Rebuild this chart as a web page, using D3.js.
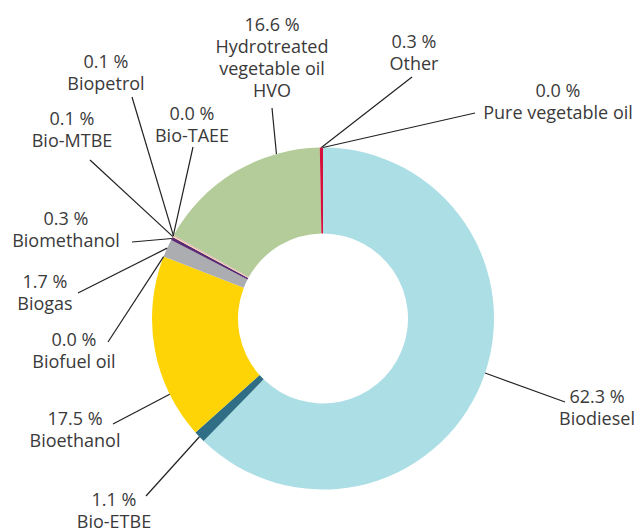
<!DOCTYPE html>
<html>
<head>
<meta charset="utf-8">
<script src="https://cdn.jsdelivr.net/npm/d3@7"></script>
<style>
  html, body { margin: 0; padding: 0; background: #fff; }
  svg text { font-family: "Open Sans", sans-serif; font-size: 18px; fill: #3a3a3a; }
</style>
</head>
<body>
<div id="chart"></div>
<script>
// 数据
const categories = ['Biodiesel', 'Bio-ETBE', 'Bioethanol', 'Biofuel oil', 'Biogas', 'Biomethanol',
  'Bio-MTBE', 'Bio-TAEE', 'Biopetrol', 'HVO', 'Other', 'Pure vegetable oil'];
const shares = [62.3, 1.1, 17.5, 0.0, 1.7, 0.3, 0.1, 0.0, 0.1, 16.6, 0.3, 0.0];
const labelNames = [['Biodiesel'], ['Bio-ETBE'], ['Bioethanol'], ['Biofuel oil'], ['Biogas'], ['Biomethanol'],
  ['Bio-MTBE'], ['Bio-TAEE'], ['Biopetrol'], ['Hydrotreated', 'vegetable oil', 'HVO'], ['Other'], ['Pure vegetable oil']];
const colors = ['#acdee6', '#2f6e84', '#fed406', '#cccccc', '#acadb1', '#5b2a72',
  '#f6e3a6', '#dddddd', '#ea9fb4', '#b4cc9a', '#d5103c', '#dddddd'];

// 标签布局: 文字中心, 首行基线, 引线终点, 引线在外圈的角度(度, 可选)
const labelLayout = [
  { x: 597, y: 403, ex: 565, ey: 402, at: 108.6 },
  { x: 114, y: 506, ex: 146, ey: 496 },
  { x: 75, y: 425, ex: 113, ey: 424, at: 243.7 },
  { x: 74, y: 346, ex: 108, ey: 342 },
  { x: 45, y: 288, ex: 78, ey: 293 },
  { x: 66, y: 225, ex: 132, ey: 242 },
  { x: 72, y: 125, ex: 90, ey: 160 },
  { x: 192, y: 120, ex: 193, ey: 147 },
  { x: 106, y: 68, ex: 132, ey: 97 },
  { x: 272, y: 31, ex: 272, ey: 108, at: 344.2 },
  { x: 414, y: 48, ex: 412, ey: 77 },
  { x: 558, y: 97, ex: 475, ey: 113 }
];

const width = 638, height = 531;
const cx = 323, cy = 318.5;
const outerR = 171, innerR = 85;
const lineH = 22;

const svg = d3.select('#chart').append('svg')
  .attr('width', width)
  .attr('height', height);

const pie = d3.pie().sort(null).value(d => d.value);
const arcs = pie(categories.map((c, i) => ({ name: c, value: shares[i], idx: i })));
const arc = d3.arc().innerRadius(innerR).outerRadius(outerR);

const g = svg.append('g').attr('transform', `translate(${cx},${cy})`);

// 绘制扇区
g.selectAll('path.slice')
  .data(arcs)
  .enter()
  .append('path')
  .attr('class', 'slice')
  .attr('d', arc)
  .attr('fill', d => colors[d.data.idx]);

// 引线
const attach = (d) => {
  const lay = labelLayout[d.data.idx];
  const a = lay.at !== undefined ? lay.at * Math.PI / 180 : (d.startAngle + d.endAngle) / 2;
  return [cx + outerR * Math.sin(a), cy - outerR * Math.cos(a)];
};

svg.selectAll('line.leader')
  .data(arcs)
  .enter()
  .append('line')
  .attr('class', 'leader')
  .attr('x1', d => attach(d)[0])
  .attr('y1', d => attach(d)[1])
  .attr('x2', d => labelLayout[d.data.idx].ex)
  .attr('y2', d => labelLayout[d.data.idx].ey)
  .attr('stroke', '#222')
  .attr('stroke-width', 1.2);

// 文本
const fmt = d3.format('.1f');
const labels = svg.selectAll('text.label')
  .data(arcs)
  .enter()
  .append('text')
  .attr('class', 'label')
  .attr('text-anchor', 'middle');

labels.each(function (d) {
  const lay = labelLayout[d.data.idx];
  const lines = [`${fmt(d.data.value)} %`].concat(labelNames[d.data.idx]);
  d3.select(this).selectAll('tspan')
    .data(lines)
    .enter()
    .append('tspan')
    .attr('x', lay.x)
    .attr('y', (t, i) => lay.y + i * lineH)
    .text(t => t);
});
</script>
</body>
</html>
